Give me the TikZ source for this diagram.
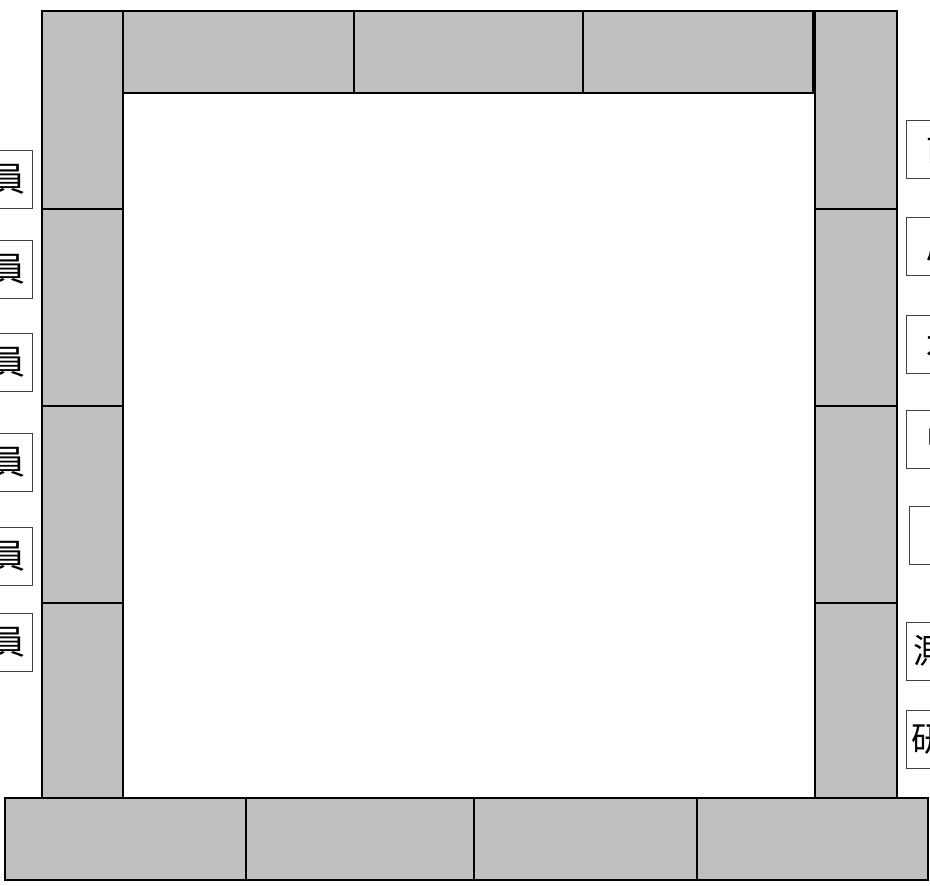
\documentclass[tikz,border=0pt]{standalone}
\usepackage{fontspec}
\newfontfamily\jp{Noto Sans CJK JP}
\definecolor{deskgray}{HTML}{C0C0C0}
\tikzset{
  desk/.style={draw=black, fill=deskgray, line width=1.5pt},
  seatleft/.style={draw=black!75, line width=0.7pt, fill=white, anchor=east,
    minimum height=1.74cm, inner xsep=0.21cm, inner ysep=0pt,
    font=\jp\fontsize{29}{32}\selectfont},
  seatright/.style={draw=black!75, line width=0.7pt, fill=white, anchor=west,
    minimum height=1.74cm, minimum width=3.24cm, inner sep=0pt,
    font=\jp\fontsize{29}{32}\selectfont}
}
\begin{document}
\begin{tikzpicture}[x=0.03cm, y=-0.03cm]
\clip (0,0) rectangle (930,885);
% left column of desks
\foreach \ya/\yb in {11/209, 209/406, 406/603, 603/798}
  \draw[desk] (42,\ya) rectangle (123,\yb);
% top row
\foreach \xa/\xb in {123/354, 354/583, 583/813}
  \draw[desk] (\xa,11) rectangle (\xb,93);
% right column
\foreach \ya/\yb in {11/209, 209/406, 406/603, 603/798}
  \draw[desk] (815,\ya) rectangle (897,\yb);
% bottom row
\foreach \xa/\xb in {5/246, 246/474, 474/697, 697/928}
  \draw[desk] (\xa,798) rectangle (\xb,880);
% seats on the left
\foreach \y [count=\i] in {179,269,362,462,556,642}
  \node[seatleft] (iin\i) at (33,\y) {委員};
% seats on the right
\node[seatright] (zen) at (906,149) {前席};
\node[seatright] (koho) at (906,246) {広報};
\node[seatright] (suido) at (906,344) {水道};
\node[seatright] (chu) at (906,439) {中継};
\node[seatright] (kakari) at (909,535) {係};
\node[seatright, minimum width=3.5cm] (sokuryo) at (906,651) {測量課};
\node[seatright, minimum width=3.36cm] (kenkyu) at (906,739) {研究所};
\end{tikzpicture}
\end{document}
